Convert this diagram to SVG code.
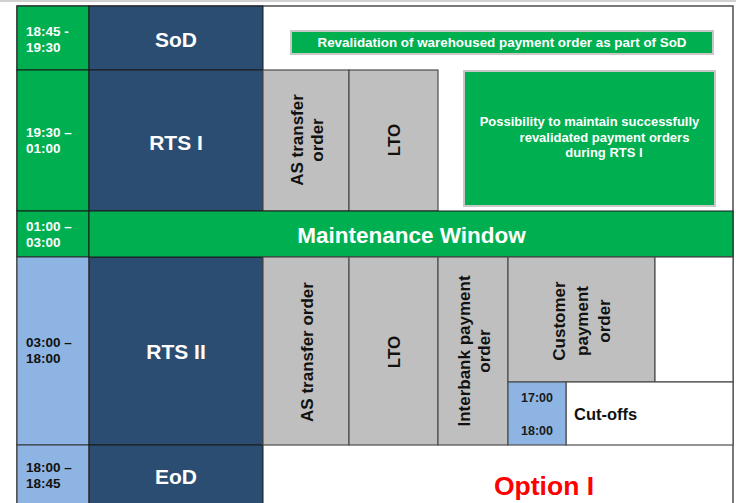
<svg xmlns="http://www.w3.org/2000/svg" width="736" height="503" viewBox="0 0 736 503">
<style>
.g{fill:#00B050;stroke:#1a1a1a;stroke-width:1}
.lb{fill:#8DB4E2;stroke:#333;stroke-width:1}
.db{fill:#2C4D72;stroke:#1a1a1a;stroke-width:1}
.gr{fill:#BFBFBF;stroke:#4d4d4d;stroke-width:1.2}
.wh{fill:#FFFFFF;stroke:#4d4d4d;stroke-width:1.2}
.gb{fill:#00B050;stroke:#C8C8C8;stroke-width:2}
text{font-family:"Liberation Sans",Arial,sans-serif;font-weight:bold}
.tw{fill:#FFFFFF;font-size:13.5px}
.tk{fill:#111111;font-size:13.5px}
.big{fill:#FFFFFF;font-size:21px;text-anchor:middle}
.rot{fill:#111111;font-size:17px;text-anchor:middle}
.sm{fill:#FFFFFF;font-size:13px;text-anchor:middle}
</style>
<rect x="0" y="0" width="736" height="503" fill="#FFFFFF"/>
<line x1="0" y1="1" x2="736" y2="1" stroke="#D0D0D0" stroke-width="2"/>
<g id="frame">
<rect x="17" y="6" width="716" height="500" fill="#FFFFFF" stroke="#4d4d4d" stroke-width="1.5"/>
</g>
<g id="time-sod"><rect class="g" x="17" y="6" width="72" height="64"/><text class="tw" x="26" y="36">18:45 -</text><text class="tw" x="26" y="52">19:30</text></g>
<g id="time-rts1"><rect class="g" x="17" y="70" width="72" height="141"/><text class="tw" x="26" y="137">19:30 –</text><text class="tw" x="26" y="153">01:00</text></g>
<g id="time-maint"><rect class="g" x="17" y="211" width="72" height="46"/><text class="tw" x="26" y="231">01:00 –</text><text class="tw" x="26" y="247">03:00</text></g>
<g id="time-rts2"><rect class="lb" x="17" y="257" width="72" height="188"/><text class="tk" x="26" y="347">03:00 –</text><text class="tk" x="26" y="363">18:00</text></g>
<g id="time-eod"><rect class="lb" x="17" y="445" width="72" height="62"/><text class="tk" x="26" y="472">18:00 –</text><text class="tk" x="26" y="488">18:45</text></g>
<g id="sod"><rect class="db" x="89" y="6" width="174" height="64"/><text class="big" x="176" y="47">SoD</text></g>
<g id="rts1"><rect class="db" x="89" y="70" width="174" height="141"/><text class="big" x="176" y="150">RTS I</text></g>
<g id="rts2"><rect class="db" x="89" y="257" width="174" height="188"/><text class="big" x="176" y="359">RTS II</text></g>
<g id="eod"><rect class="db" x="89" y="445" width="174" height="62"/><text class="big" x="176" y="484">EoD</text></g>
<g id="revalidation"><rect class="gb" x="291" y="31" width="422" height="23"/><text class="sm" x="502" y="47" style="font-size:13.4px">Revalidation of warehoused payment order as part of SoD</text></g>
<g id="rts1-as"><rect class="gr" x="263" y="70" width="86" height="141"/><text class="rot" transform="translate(303,140) rotate(-90)">AS transfer</text><text class="rot" transform="translate(323,140) rotate(-90)">order</text></g>
<g id="rts1-lto"><rect class="gr" x="349" y="70" width="89" height="141"/><text class="rot" transform="translate(400,140) rotate(-90)">LTO</text></g>
<g id="possibility"><rect class="gb" x="464" y="71" width="251" height="135"/><text class="sm" x="589.5" y="126">Possibility to maintain successfully</text><text class="sm" x="604.5" y="142">revalidated payment orders</text><text class="sm" x="604" y="157">during RTS I</text></g>
<g id="maintenance"><rect class="g" x="89" y="211" width="644" height="46"/><text x="411.5" y="243" style="fill:#FFFFFF;font-size:22.5px;text-anchor:middle">Maintenance Window</text></g>
<g id="rts2-as"><rect class="gr" x="263" y="257" width="86" height="188"/><text class="rot" transform="translate(313,352) rotate(-90)">AS transfer order</text></g>
<g id="rts2-lto"><rect class="gr" x="349" y="257" width="89" height="188"/><text class="rot" transform="translate(400,352) rotate(-90)">LTO</text></g>
<g id="interbank"><rect class="gr" x="438" y="257" width="70" height="188"/><text class="rot" transform="translate(470,351) rotate(-90)">Interbank payment</text><text class="rot" transform="translate(490,351) rotate(-90)">order</text></g>
<g id="customer"><rect class="gr" x="508" y="257" width="147" height="125"/><text class="rot" transform="translate(565,321) rotate(-90)">Customer</text><text class="rot" transform="translate(588,321) rotate(-90)">payment</text><text class="rot" transform="translate(610,321) rotate(-90)">order</text></g>
<g id="empty-cell"><rect class="wh" x="655" y="257" width="78" height="125"/></g>
<g id="cutoffs"><rect class="wh" x="566" y="382" width="167" height="63"/><text x="574" y="420" style="fill:#111111;font-size:16.5px">Cut-offs</text></g>
<g id="cutoff-times"><rect x="508" y="382" width="58" height="63" fill="#8DB4E2" stroke="#4d4d4d" stroke-width="1.2"/><text x="537" y="402" style="fill:#1a1a1a;font-size:12.5px;text-anchor:middle">17:00</text><text x="537" y="435" style="fill:#1a1a1a;font-size:12.5px;text-anchor:middle">18:00</text></g>
<g id="option"><text x="544" y="495" style="fill:#FF0000;font-size:26.5px;text-anchor:middle">Option I</text></g>
<g id="connectors"></g>
</svg>
